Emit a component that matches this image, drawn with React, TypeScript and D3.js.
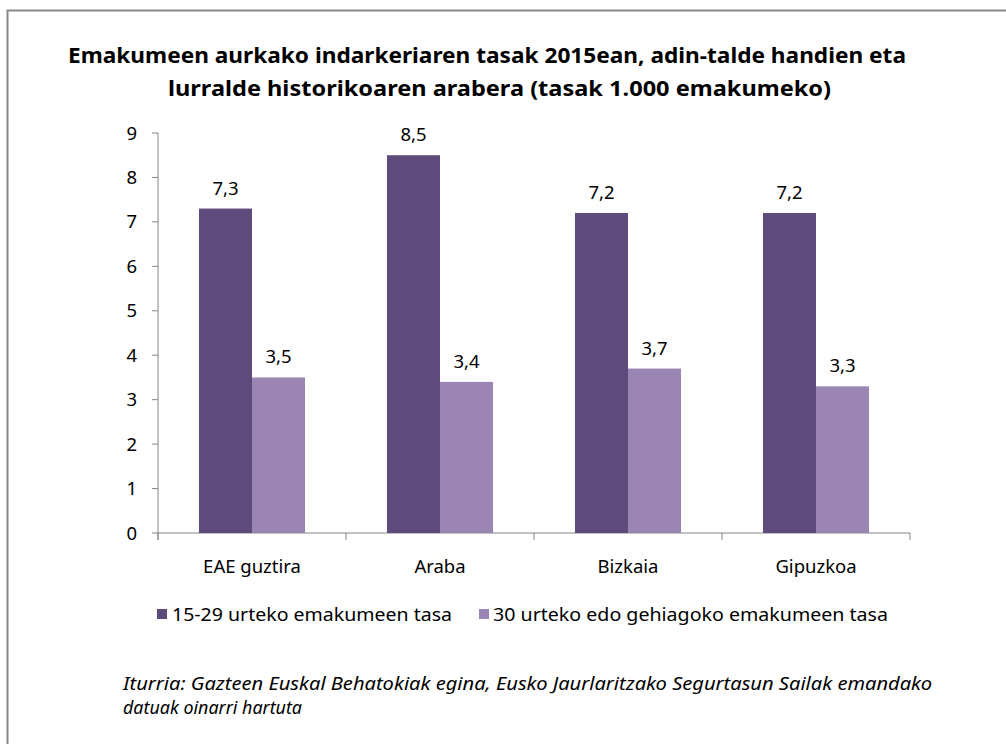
import React from "react";
import * as d3 from "d3";

const categories = ["EAE guztira", "Araba", "Bizkaia", "Gipuzkoa"];
const seriesNames = ["15-29 urteko emakumeen tasa", "30 urteko edo gehiagoko emakumeen tasa"];
const young = [7.3, 8.5, 7.2, 7.2];
const older = [3.5, 3.4, 3.7, 3.3];
const yTicks = [0, 1, 2, 3, 4, 5, 6, 7, 8, 9];
const titleLines = [
  "Emakumeen aurkako indarkeriaren tasak 2015ean, adin-talde handien eta",
  "lurralde historikoaren arabera (tasak 1.000 emakumeko)",
];
const sourceLines = [
  "Iturria: Gazteen Euskal Behatokiak egina, Eusko Jaurlaritzako Segurtasun Sailak emandako",
  "datuak oinarri hartuta",
];

const colors = ["#5F4B7B", "#9A85B5"];
const FONT = "'Noto Sans', 'Open Sans', sans-serif";

export default function App() {
  const W = 1006, H = 744;
  const left = 158, right = 910, top = 133, bottom = 533;
  const x = d3.scaleBand().domain(categories).range([left, right]).paddingInner(0.436).paddingOuter(0.218);
  const xs = d3.scaleBand().domain(["a", "b"]).range([0, x.bandwidth()]);
  const y = d3.scaleLinear().domain([0, 9]).range([bottom, top]);
  const series = [young, older];
  const fmt = (v: number) => v.toFixed(1).replace(".", ",");
  const axisColor = "#868686";
  const step = (right - left) / categories.length;

  return (
    <svg width={W} height={H} style={{ position: "absolute", left: 0, top: 0 }}>
      <rect x={0} y={0} width={W} height={H} fill="#fff" />
      <rect x={7.5} y={10.5} width={W + 20} height={H + 20} fill="#fff" stroke="#888" strokeWidth={2} />
      {titleLines.map((t, i) => (
        <text key={i} x={i === 0 ? 68 : 168} y={63 + i * 33} fontFamily={FONT} fontWeight="bold" fontSize={22}
          fill="#000" textLength={i === 0 ? 838 : 663} lengthAdjust="spacingAndGlyphs">{t}</text>
      ))}
      {/* y axis */}
      <line x1={left} x2={left} y1={top} y2={bottom + 7} stroke={axisColor} />
      {yTicks.map((t) => (
        <g key={t}>
          <line x1={left - 6} x2={left} y1={y(t)} y2={y(t)} stroke={axisColor} />
          <text x={137} y={y(t) + 6.5} textAnchor="end" fontFamily={FONT} fontSize={18.5} fill="#000">{t}</text>
        </g>
      ))}
      {/* x axis */}
      <line x1={left} x2={right} y1={bottom} y2={bottom} stroke={axisColor} />
      {d3.range(categories.length + 1).map((i) => (
        <line key={i} x1={left + i * step} x2={left + i * step} y1={bottom} y2={bottom + 7} stroke={axisColor} />
      ))}
      {categories.map((c, ci) => (
        <g key={c}>
          {series.map((s, si) => {
            const bx = (x(c) as number) + (xs(si === 0 ? "a" : "b") as number);
            return (
              <g key={si}>
                <rect x={bx} y={y(s[ci])} width={xs.bandwidth()} height={bottom - y(s[ci])} fill={colors[si]} />
                <text x={bx + xs.bandwidth() / 2} y={y(s[ci]) - 14} textAnchor="middle" fontFamily={FONT} fontSize={18.5} fill="#000">{fmt(s[ci])}</text>
              </g>
            );
          })}
          <text x={(x(c) as number) + x.bandwidth() / 2} y={573} textAnchor="middle" fontFamily={FONT} fontSize={18.5} fill="#000">{c}</text>
        </g>
      ))}
      {/* legend */}
      {seriesNames.map((n, i) => {
        const sx = i === 0 ? 157 : 479;
        const tx = i === 0 ? 172 : 493;
        const tl = i === 0 ? 280 : 395;
        return (
          <g key={n}>
            <rect x={sx} y={609} width={10} height={10} fill={colors[i]} />
            <text x={tx} y={621} fontFamily={FONT} fontSize={18.5} fill="#000" textLength={tl} lengthAdjust="spacingAndGlyphs">{n}</text>
          </g>
        );
      })}
      {sourceLines.map((t, i) => (
        <text key={i} x={123} y={690 + i * 24} fontFamily={FONT} fontStyle="italic" fontSize={18.5} fill="#000"
          textLength={i === 0 ? 809 : 179} lengthAdjust="spacingAndGlyphs">{t}</text>
      ))}
    </svg>
  );
}
